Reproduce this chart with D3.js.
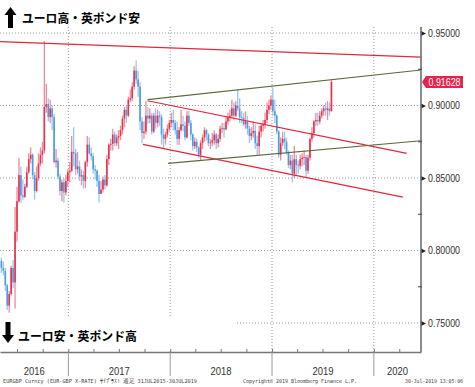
<!DOCTYPE html>
<html><head><meta charset="utf-8">
<script src="https://cdn.jsdelivr.net/npm/d3@7"></script>
<style>body{margin:0;background:#fff;} svg{display:block}</style>
</head><body>
<svg id="c" width="475" height="387"></svg>
<script>
// ---- data (weekly EUR/GBP candles) ----
const firstOpen = 0.7930;
const closes = [
.7880,.7860,.7760,.7620,.7700,.7880,.7780,.8130,.8340,.8520,
.8380,.8370,.8440,.8540,.8630,.8660,.8520,.8410,.8500,.8600,
.8660,.8690,.8990,.9010,.8920,.8980,.8920,.8610,.8620,.8510,
.8410,.8470,.8400,.8480,.8540,.8550,.8680,.8670,.8560,.8580,
.8510,.8520,.8480,.8610,.8730,.8670,.8650,.8560,.8550,.8480,
.8390,.8420,.8490,.8450,.8630,.8730,.8735,.8800,.8740,.8780,
.8790,.8830,.8910,.8970,.8930,.9040,.9050,.9130,.9240,.9180,
.9130,.8890,.8810,.8820,.8930,.8910,.8930,.8820,.8930,.8880,
.8930,.8920,.8800,.8770,.8800,.8840,.8880,.8900,.8880,.8830,
.8770,.8830,.8870,.8860,.8780,.8930,.8880,.8800,.8720,.8750,
.8710,.8660,.8740,.8780,.8830,.8800,.8740,.8745,.8760,.8800,
.8740,.8770,.8840,.8845,.8835,.8890,.8920,.8930,.8980,.8930,
.9000,.8980,.8920,.8915,.8870,.8890,.8840,.8790,.8810,.8825,
.8740,.8720,.8820,.8860,.8870,.8900,.8970,.9000,.9040,.8960,
.8930,.8820,.8660,.8740,.8770,.8750,.8680,.8590,.8620,.8530,
.8630,.8590,.8585,.8630,.8640,.8645,.8550,.8640,.8770,.8810,
.8890,.8900,.8890,.8930,.8960,.8980,.8970,.8980,.8960,.91628];
const highs = [
.7950,.7925,.7880,.7770,.7720,.7895,.7935,.8300,.8440,.8640,
.8580,.8490,.8460,.8580,.8670,.8710,.8670,.8540,.8580,.8670,
.8710,.8750,.9445,.9150,.9050,.9040,.9000,.8940,.8700,.8640,
.8530,.8490,.8500,.8520,.8560,.8610,.8790,.8850,.8700,.8680,
.8620,.8560,.8550,.8620,.8790,.8780,.8710,.8670,.8590,.8560,
.8520,.8480,.8510,.8520,.8660,.8740,.8770,.8840,.8820,.8800,
.8830,.8860,.8930,.8990,.9000,.9060,.9110,.9160,.9270,.9310,
.9240,.9160,.8920,.8890,.9030,.8990,.8980,.8950,.8950,.8980,
.8970,.8960,.8940,.8840,.8820,.8870,.8900,.8950,.8970,.8900,
.8890,.8850,.8970,.8930,.8890,.8960,.8960,.8900,.8810,.8780,
.8770,.8720,.8760,.8800,.8850,.8840,.8810,.8770,.8810,.8830,
.8810,.8800,.8860,.8880,.8880,.8930,.8950,.8970,.9040,.9020,
.9030,.9110,.9050,.8960,.8950,.8960,.8930,.8860,.8850,.8890,
.8870,.8790,.8860,.8880,.8900,.8950,.9020,.9040,.9070,.9120,
.9040,.8940,.8830,.8780,.8820,.8820,.8780,.8690,.8660,.8660,
.8720,.8660,.8620,.8660,.8670,.8690,.8660,.8660,.8780,.8850,
.8900,.8950,.8950,.8960,.8980,.9000,.9020,.9030,.9020,.9178];
const lows = [
.7845,.7830,.7720,.7590,.7570,.7690,.7740,.7600,.8060,.8330,
.8330,.8350,.8360,.8430,.8530,.8600,.8490,.8350,.8400,.8480,
.8580,.8600,.8670,.8950,.8890,.8880,.8830,.8600,.8570,.8490,
.8380,.8340,.8330,.8380,.8440,.8470,.8540,.8580,.8520,.8530,
.8480,.8450,.8430,.8430,.8580,.8660,.8620,.8530,.8490,.8440,
.8330,.8390,.8400,.8420,.8440,.8590,.8690,.8690,.8720,.8720,
.8700,.8760,.8800,.8850,.8880,.8920,.9020,.9030,.9110,.9150,
.9060,.8830,.8740,.8770,.8800,.8870,.8880,.8800,.8810,.8840,
.8850,.8860,.8730,.8700,.8730,.8780,.8820,.8850,.8830,.8800,
.8730,.8730,.8820,.8820,.8760,.8770,.8860,.8760,.8690,.8700,
.8680,.8640,.8620,.8700,.8750,.8760,.8720,.8700,.8720,.8730,
.8700,.8710,.8750,.8810,.8780,.8830,.8870,.8890,.8910,.8900,
.8920,.8960,.8880,.8880,.8860,.8840,.8800,.8740,.8760,.8780,
.8700,.8660,.8660,.8780,.8820,.8840,.8880,.8940,.8970,.8930,
.8880,.8800,.8640,.8620,.8720,.8700,.8660,.8570,.8560,.8470,
.8500,.8520,.8530,.8560,.8580,.8590,.8500,.8530,.8620,.8750,
.8780,.8860,.8860,.8870,.8910,.8930,.8930,.8900,.8930,.8960];
const firstWeek = "2016-05-06";
const lastWeek = "2019-08-02";
const yTicks = [0.75, 0.80, 0.85, 0.90, 0.95];
const yMinorTicks = [0.775, 0.825, 0.875, 0.925];
const yearStarts = ["2017-01-01","2018-01-01","2019-01-01","2020-01-01"];
const yearLabels = ["2016","2017","2018","2019","2020"];
const lastValue = 0.91628;
const longRedLine = [["2016-05-01",0.9440],["2020-06-18",0.9334]];
const redUpper = [["2017-10-12",0.9033],["2020-04-28",0.8670]];
const redLower = [["2017-09-25",0.8732],["2020-04-14",0.8368]];
const greenUpper = [["2017-10-12",0.9040],["2020-06-18",0.9245]];
const greenLower = [["2017-12-24",0.8601],["2020-06-18",0.8757]];
const topLabel = "ユーロ高・英ポンド安";
const bottomLabel = "ユーロ安・英ポンド高";
const footLeft = "EURGBP Curncy (EUR-GBP X-RATE) ｻｲﾌﾟﾗｽ!  週足 31JUL2015-30JUL2019";
const footMid = "Copyright© 2019 Bloomberg Finance L.P.";
const footRight = "30-Jul-2019 13:05:06";

// ---- layout ----
const P = {left:0, right:421, top:27, bottom:352};
const parse = d3.utcParse("%Y-%m-%d");
const svg = d3.select("#c");
const x = d3.scaleUtc().domain([parse("2016-05-01"), parse("2020-06-18")]).range([P.left, P.right]);
const y = d3.scaleLinear().domain([0.75, 0.95]).range([323, 33]);

const weeks = d3.utcFriday.range(parse(firstWeek), d3.utcDay.offset(parse(lastWeek),1));
const candles = closes.map((c,i)=>({
  d: weeks[i], o: i===0 ? firstOpen : closes[i-1], c, h: highs[i], l: lows[i]
}));

const gridCol = "#9a9a9a";
// horizontal gridlines
svg.append("g").selectAll("line").data(yTicks).join("line")
  .attr("x1", P.left).attr("x2", P.right)
  .attr("y1", d=>y(d)).attr("y2", d=>y(d))
  .attr("stroke", gridCol).attr("stroke-width",1).attr("stroke-dasharray","1,2");
// vertical year gridlines
const ys = yearStarts.map(parse);
svg.append("g").selectAll("line").data(ys).join("line")
  .attr("x1", d=>x(d)).attr("x2", d=>x(d))
  .attr("y1", P.top).attr("y2", P.bottom)
  .attr("stroke", gridCol).attr("stroke-width",1).attr("stroke-dasharray","1,2");

// bottom label white box
svg.append("rect").attr("x",0).attr("y",318).attr("width",236).attr("height",33).attr("fill","#fff");

// candles
const upCol = "#e8304c", dnCol = "#4a9be6";
const cg = svg.append("g");
cg.selectAll("line").data(candles).join("line")
  .attr("x1", d=>x(d.d)).attr("x2", d=>x(d.d))
  .attr("y1", d=>y(d.h)).attr("y2", d=>y(d.l))
  .attr("stroke", d=> d.c>=d.o ? "#f08a9c" : "#9cc6ee").attr("stroke-width",1.3);
cg.selectAll("rect").data(candles).join("rect")
  .attr("x", d=>x(d.d)-0.8).attr("width",1.6)
  .attr("y", d=>y(Math.max(d.o,d.c)))
  .attr("height", d=>Math.max(0.8, Math.abs(y(d.o)-y(d.c))))
  .attr("fill", d=> d.c>=d.o ? upCol : dnCol);

// trend lines
const line = d3.line().x(d=>x(parse(d[0]))).y(d=>y(d[1]));
[[longRedLine,"#e0283a"],[redUpper,"#e0283a"],[redLower,"#e0283a"],
 [greenUpper,"#5b6b3c"],[greenLower,"#5b6b3c"]].forEach(([pts,col])=>{
  svg.append("path").attr("d", line(pts)).attr("fill","none")
    .attr("stroke", col).attr("stroke-width",1.2);
});

// x axis with quarter ticks
const xAxis = d3.axisBottom(x).ticks(d3.utcMonth.every(3)).tickSizeInner(-3).tickSizeOuter(0).tickFormat("");
const xg = svg.append("g").attr("transform",`translate(0,${P.bottom})`).call(xAxis);
xg.select(".domain").attr("stroke","#777").attr("stroke-width",1.5);
xg.selectAll(".tick line").attr("stroke","#777");
// year dividers below axis
svg.append("g").selectAll("line").data(ys).join("line")
  .attr("x1", d=>x(d)).attr("x2", d=>x(d))
  .attr("y1", P.bottom).attr("y2", 376)
  .attr("stroke","#999").attr("stroke-width",1);
// year labels centered in each year span
const bounds = [x.domain()[0], ...ys, x.domain()[1]];
svg.append("g").selectAll("text").data(yearLabels).join("text")
  .attr("x", (d,i)=>(x(bounds[i])+x(bounds[i+1]))/2)
  .attr("y", 375)
  .attr("text-anchor","middle")
  .attr("font-family","Liberation Sans, Arial, sans-serif")
  .attr("font-size",11.5).attr("fill","#333")
  .attr("textLength",21).attr("lengthAdjust","spacingAndGlyphs")
  .text(d=>d);

// right axis
const yAxis = d3.axisRight(y).tickValues(yTicks).tickSize(0).tickPadding(7).tickFormat(d3.format(".5f"));
const yg = svg.append("g").attr("transform",`translate(${P.right},0)`).call(yAxis);
yg.select(".domain").remove();
svg.append("line").attr("x1",P.right).attr("x2",P.right).attr("y1",P.top).attr("y2",P.bottom)
  .attr("stroke","#6e6e6e").attr("stroke-width",1.6);
yg.selectAll(".tick text")
  .attr("font-family","Liberation Sans, Arial, sans-serif").attr("font-size",10.5).attr("fill","#333")
  .attr("textLength",32).attr("lengthAdjust","spacingAndGlyphs");
yg.selectAll(".tick").append("path").attr("d","M0,-2.5L5,0L0,2.5Z").attr("fill","#222");
svg.append("g").selectAll("line").data(yMinorTicks).join("line")
  .attr("x1",P.right-3).attr("x2",P.right+1).attr("y1",d=>y(d)).attr("y2",d=>y(d))
  .attr("stroke","#444").attr("stroke-width",1);

// last value tag
const ly = y(lastValue);
svg.append("path")
  .attr("d",`M${P.right+1},${ly} L${P.right+5},${ly-6} L463,${ly-6} L463,${ly+6} L${P.right+5},${ly+6} Z`)
  .attr("fill","#e8224a");
svg.append("text").attr("x",444.5).attr("y",ly).attr("dy","0.36em").attr("text-anchor","middle")
  .attr("font-family","Liberation Sans, Arial, sans-serif").attr("font-size",10.5).attr("fill","#fff")
  .attr("textLength",32).attr("lengthAdjust","spacingAndGlyphs").text(d3.format(".5f")(lastValue));

// arrows and labels
svg.append("path").attr("d","M4.5,15 L10.5,7 L16.5,15 L13,15 L13,28 L8,28 L8,15 Z").attr("fill","#000");
svg.append("text").attr("x",22).attr("y",22.5)
  .attr("font-family","Noto Sans CJK JP, sans-serif").attr("font-weight","bold")
  .attr("font-size",12.5).attr("fill","#000")
  .attr("textLength",118).attr("lengthAdjust","spacingAndGlyphs").text(topLabel);
svg.append("path").attr("d","M5.5,322 L10.5,322 L10.5,335 L14,335 L8,343 L2,335 L5.5,335 Z").attr("fill","#000");
svg.append("text").attr("x",18).attr("y",340.5)
  .attr("font-family","Noto Sans CJK JP, sans-serif").attr("font-weight","bold")
  .attr("font-size",12.5).attr("fill","#000")
  .attr("textLength",119).attr("lengthAdjust","spacingAndGlyphs").text(bottomLabel);

// footer
const foot = [[footLeft,3,194],[footMid,243,114],[footRight,405,58]];
svg.append("g").selectAll("text").data(foot).join("text")
  .attr("x",d=>d[1]).attr("y",383)
  .attr("font-family","DejaVu Sans Mono, monospace").attr("font-size",5.5).attr("fill","#444")
  .attr("textLength",d=>d[2]).attr("lengthAdjust","spacingAndGlyphs").text(d=>d[0]);
</script>
</body></html>
